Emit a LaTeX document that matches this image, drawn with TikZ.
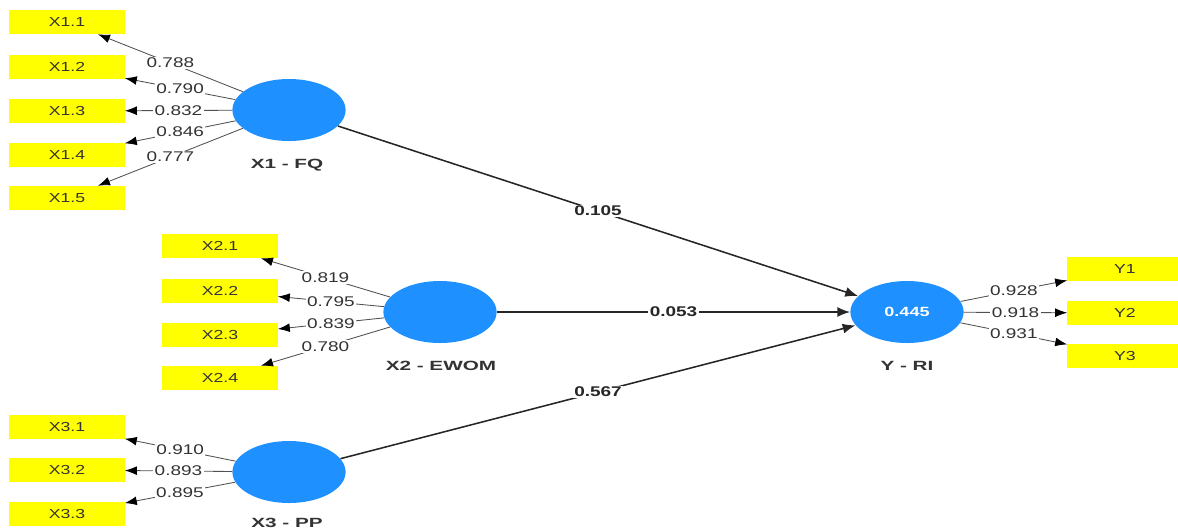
\documentclass[tikz,border=0pt]{standalone}
\usepackage{fontspec}
\setmainfont{Liberation Sans}[FakeStretch=1.35]
\usetikzlibrary{shapes.geometric, arrows.meta}
\definecolor{indyellow}{HTML}{FFFF00}
\definecolor{latblue}{HTML}{1E90FF}
\definecolor{linegray}{HTML}{505050}
\definecolor{textgray}{HTML}{333333}

\begin{document}
\begin{tikzpicture}[x=0.025cm, y=-0.025cm,
    indicator/.style={fill=indyellow, minimum width=2.875cm, minimum height=0.6cm, inner sep=0pt, text=textgray, font=\fontsize{9.3}{10}\selectfont},
    latent/.style={ellipse, fill=latblue, minimum width=2.83cm, minimum height=1.55cm, inner sep=0pt},
    latentname/.style={font=\bfseries\fontsize{9.5}{10}\selectfont\addfontfeature{FakeStretch=1.55}, text=textgray},
    loading/.style={-{Latex[length=3mm, width=2.2mm, color=black]}, draw=linegray, line width=0.6pt},
    structural/.style={-{Latex[length=3.2mm, width=2.5mm]}, line width=1.1pt, draw=black!85},
    weight/.style={midway, fill=white, inner sep=1pt, text=textgray, font=\fontsize{10}{11}\selectfont},
    coef/.style={midway, fill=white, inner sep=1pt, text=black!85, font=\bfseries\fontsize{10}{11}\selectfont}
]
    \useasboundingbox (0, 0) rectangle (1178, 529);

    % latent variables
    \node[latent] (fq) at (289, 110) {};
    \node[latent] (ewom) at (440, 312) {};
    \node[latent] (pp) at (289, 472) {};
    \node[latent, text=white, font=\bfseries\fontsize{9.5}{10}\selectfont] (ri) at (907, 312) {0.445};

    \node[latentname] (fqname) at (287, 165) {X1 - FQ};
    \node[latentname] (ewomname) at (441, 366) {X2 - EWOM};
    \node[latentname] (ppname) at (287, 523) {X3 - PP};
    \node[latentname] (riname) at (907, 366) {Y - RI};

    % indicators
    \node[indicator] (x11) at (67, 22) {X1.1};
    \node[indicator] (x12) at (67, 67) {X1.2};
    \node[indicator] (x13) at (67, 111) {X1.3};
    \node[indicator] (x14) at (67, 155) {X1.4};
    \node[indicator] (x15) at (67, 198) {X1.5};

    \node[indicator] (x21) at (220, 246) {X2.1};
    \node[indicator] (x22) at (220, 291) {X2.2};
    \node[indicator] (x23) at (220, 335) {X2.3};
    \node[indicator] (x24) at (220, 378) {X2.4};

    \node[indicator] (x31) at (67, 427) {X3.1};
    \node[indicator] (x32) at (67, 470) {X3.2};
    \node[indicator] (x33) at (67, 514) {X3.3};

    \node[indicator] (y1) at (1125, 269) {Y1};
    \node[indicator] (y2) at (1125, 313) {Y2};
    \node[indicator] (y3) at (1125, 356) {Y3};

    % outer loadings
    \draw[loading] (fq) -- (x11) node[weight] {0.788};
    \draw[loading] (fq) -- (x12) node[weight] {0.790};
    \draw[loading] (fq) -- (x13) node[weight] {0.832};
    \draw[loading] (fq) -- (x14) node[weight] {0.846};
    \draw[loading] (fq) -- (x15) node[weight] {0.777};

    \draw[loading] (ewom) -- (x21) node[weight] {0.819};
    \draw[loading] (ewom) -- (x22) node[weight] {0.795};
    \draw[loading] (ewom) -- (x23) node[weight] {0.839};
    \draw[loading] (ewom) -- (x24) node[weight] {0.780};

    \draw[loading] (pp) -- (x31) node[weight] {0.910};
    \draw[loading] (pp) -- (x32) node[weight] {0.893};
    \draw[loading] (pp) -- (x33) node[weight] {0.895};

    \draw[loading] (ri) -- (y1) node[weight] {0.928};
    \draw[loading] (ri) -- (y2) node[weight] {0.918};
    \draw[loading] (ri) -- (y3) node[weight] {0.931};

    % path coefficients
    \draw[structural] (fq) -- (ri) node[coef] {0.105};
    \draw[structural] (ewom) -- (ri) node[coef] {0.053};
    \draw[structural] (pp) -- (ri) node[coef] {0.567};
\end{tikzpicture}
\end{document}
